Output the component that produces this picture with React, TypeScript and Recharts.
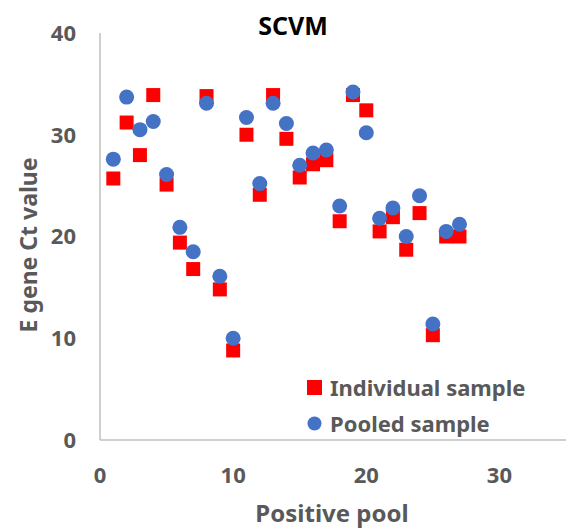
import { Scatter, ScatterChart, XAxis, YAxis } from "recharts";

const pools = [
  1, 2, 3, 4, 5, 6, 7, 8, 9, 10, 11, 12, 13, 14, 15, 16, 17, 18, 19, 20, 21,
  22, 23, 24, 25, 26, 27,
];
const individualCt = [
  25.7, 31.2, 28.0, 33.9, 25.1, 19.4, 16.8, 33.8, 14.8, 8.8, 30.0, 24.1, 33.9,
  29.6, 25.8, 27.1, 27.5, 21.5, 33.9, 32.4, 20.5, 21.9, 18.7, 22.3, 10.3, 20.0,
  20.0,
];
const pooledCt = [
  27.6, 33.7, 30.5, 31.3, 26.1, 20.9, 18.5, 33.1, 16.1, 10.0, 31.7, 25.2, 33.1,
  31.1, 27.0, 28.2, 28.5, 23.0, 34.2, 30.2, 21.8, 22.8, 20.0, 24.0, 11.4, 20.5,
  21.2,
];
const xTicks = [0, 10, 20, 30];
const yTicks = [0, 10, 20, 30, 40];
const seriesNames = ["Individual sample", "Pooled sample"];

const individual = pools.map((p, i) => ({ pool: p, ct: individualCt[i] }));
const pooled = pools.map((p, i) => ({ pool: p, ct: pooledCt[i] }));

const FONT = "'Noto Sans', 'Open Sans', sans-serif";
const RED = "#ff0000";
const BLUE = "#4472c4";
const AXIS = "#bfbfbf";
const TEXT = "#595959";

const SquareMark = (props: any) => (
  <rect x={props.cx - 7} y={props.cy - 7} width={14} height={14} fill={RED} />
);
const CircleMark = (props: any) => (
  <circle cx={props.cx} cy={props.cy} r={7.5} fill={BLUE} />
);

// legend drawn by hand so it doesn't eat plot space
function LegendBox() {
  const icons = [
    <rect key="s" x={0} y={0} width={15} height={15} fill={RED} />,
    <circle key="c" cx={7.5} cy={7.5} r={7} fill={BLUE} />,
  ];
  return (
    <div style={{ position: "absolute", left: 307, top: 369 }}>
      {seriesNames.map((name, i) => (
        <div
          key={name}
          style={{ display: "flex", alignItems: "center", height: 36 }}
        >
          <svg width={15} height={15} style={{ marginRight: 8 }}>
            {icons[i]}
          </svg>
          <span
            style={{
              fontSize: 22,
              fontWeight: 700,
              color: TEXT,
              whiteSpace: "nowrap",
            }}
          >
            {name}
          </span>
        </div>
      ))}
    </div>
  );
}

const tickStyle = { fill: TEXT, fontSize: 22, fontWeight: 700, fontFamily: FONT };

export default function App() {
  return (
    <div
      style={{
        position: "absolute",
        left: 0,
        top: 0,
        width: 566,
        height: 530,
        background: "#fff",
        fontFamily: FONT,
      }}
    >
      <ScatterChart
        width={566}
        height={530}
        margin={{ top: 33, right: 0, bottom: 0, left: 0 }}
      >
        <XAxis
          type="number"
          dataKey="pool"
          domain={[0, 35]}
          ticks={xTicks}
          height={90}
          tickLine={false}
          tickSize={0}
          tickMargin={27}
          stroke={AXIS}
          strokeWidth={1.5}
          tick={tickStyle}
        />
        <YAxis
          type="number"
          dataKey="ct"
          domain={[0, 40]}
          ticks={yTicks}
          width={100}
          tickLine={false}
          tickSize={0}
          tickMargin={24}
          stroke={AXIS}
          strokeWidth={1.5}
          tick={tickStyle}
        />
        <Scatter
          name={seriesNames[0]}
          data={individual}
          shape={SquareMark}
          isAnimationActive={false}
        />
        <Scatter
          name={seriesNames[1]}
          data={pooled}
          shape={CircleMark}
          isAnimationActive={false}
        />
      </ScatterChart>
      <LegendBox />
      <div
        style={{
          position: "absolute",
          left: 193,
          width: 200,
          top: 10,
          textAlign: "center",
          fontSize: 25,
          fontWeight: 700,
          color: "#000",
          lineHeight: "30px",
        }}
      >
        SCVM
      </div>
      <div
        style={{
          position: "absolute",
          left: 232,
          width: 200,
          top: 498,
          textAlign: "center",
          fontSize: 24,
          fontWeight: 700,
          color: TEXT,
          lineHeight: "30px",
        }}
      >
        Positive pool
      </div>
      <div
        style={{
          position: "absolute",
          left: 28 - 120,
          width: 240,
          top: 245 - 15,
          textAlign: "center",
          fontSize: 23,
          fontWeight: 700,
          color: TEXT,
          lineHeight: "30px",
          transform: "rotate(-90deg)",
        }}
      >
        E gene Ct value
      </div>
    </div>
  );
}
